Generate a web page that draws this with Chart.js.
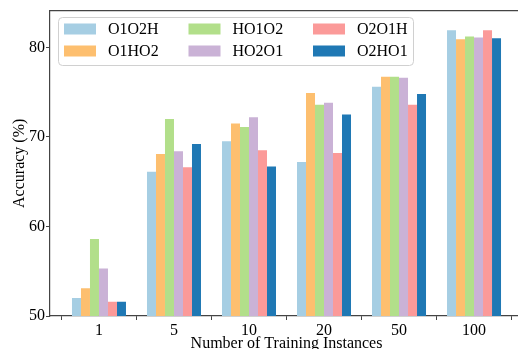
<!DOCTYPE html>
<html>
<head>
<meta charset="utf-8">
<script src="https://cdn.jsdelivr.net/npm/chart.js@4"></script>
<style>
html, body { margin: 0; padding: 0; overflow: hidden; background: #fff; }
#wrap { width: 518px; height: 349px; overflow: hidden; }
canvas { display: block; }
</style>
</head>
<body>
<div id="wrap"><canvas id="chart" width="524" height="349"></canvas></div>
<script>
// categories and series values (accuracy, %)
const categories = ['1', '5', '10', '20', '50', '100'];
const seriesNames = ['O1O2H', 'O1HO2', 'HO1O2', 'HO2O1', 'O2O1H', 'O2HO1'];
const o1o2h = [52.0, 66.1, 69.5, 67.2, 75.6, 81.9];
const o1ho2 = [53.1, 68.1, 71.5, 74.9, 76.7, 80.9];
const ho1o2 = [58.6, 72.0, 71.1, 73.6, 76.7, 81.2];
const ho2o1 = [55.3, 68.4, 72.2, 73.8, 76.6, 81.1];
const o2o1h = [51.6, 66.6, 68.5, 68.2, 73.6, 81.9];
const o2ho1 = [51.6, 69.2, 66.7, 72.5, 74.8, 81.0];
const yTicks = [50, 60, 70, 80];

const seriesValues = [o1o2h, o1ho2, ho1o2, ho2o1, o2o1h, o2ho1];
const colors = ['#a6cee3', '#fdbf6f', '#b2df8a', '#cab2d6', '#fb9a99', '#1f78b4'];
const serif = "'Liberation Serif', 'DejaVu Serif', serif";
const spineColor = '#444';

const datasets = seriesNames.map(function(name, i) {
    return {
        label: name,
        data: seriesValues[i].map(function(v, j) { return { x: j, y: v }; }),
        backgroundColor: colors[i],
        borderWidth: 0
    };
});

// top spine + legend box, drawn like matplotlib's
const extras = {
    id: 'extras',
    beforeDraw(chart) {
        const ctx = chart.ctx;
        ctx.save();
        ctx.fillStyle = '#fff';
        ctx.fillRect(0, 0, chart.width, chart.height);
        ctx.restore();
    },
    afterDraw(chart) {
        const ctx = chart.ctx;
        const area = chart.chartArea;
        ctx.save();
        ctx.strokeStyle = spineColor;
        ctx.lineWidth = 1.2;
        ctx.beginPath();
        ctx.moveTo(area.left, area.top);
        ctx.lineTo(area.right, area.top);
        ctx.stroke();

        // legend frame
        const bx = 58, by = 17, bw = 355, bh = 48, r = 4;
        ctx.beginPath();
        ctx.roundRect(bx + 0.5, by + 0.5, bw, bh, r);
        ctx.fillStyle = 'rgba(255,255,255,0.8)';
        ctx.fill();
        ctx.strokeStyle = '#d0d0d0';
        ctx.lineWidth = 1;
        ctx.stroke();

        ctx.font = '16px ' + serif;
        ctx.textBaseline = 'middle';
        ctx.fillStyle = '#000';
        chart.data.datasets.forEach(function(ds, i) {
            const col = Math.floor(i / 2), row = i % 2;
            const px = 64 + col * 124.5;
            const py = 29 + row * 22;
            ctx.fillStyle = ds.backgroundColor;
            ctx.fillRect(px, py - 5.5, 32, 11);
            ctx.fillStyle = '#000';
            ctx.fillText(ds.label, px + 44, py + 1);
        });
        ctx.restore();
    }
};

new Chart(document.getElementById('chart'), {
    type: 'bar',
    data: { datasets: datasets },
    options: {
        responsive: false,
        animation: false,
        layout: { padding: { top: 8, right: 1, left: 0, bottom: 0 } },
        datasets: { bar: { categoryPercentage: 0.72, barPercentage: 1.0 } },
        plugins: { legend: { display: false }, tooltip: { enabled: false } },
        scales: {
            x: {
                type: 'linear',
                min: -0.653,
                max: 5.653,
                offset: false,
                afterFit(scale) { scale.height = 33; },
                afterBuildTicks(scale) {
                    scale.ticks = categories.map(function(c, i) { return { value: i }; });
                },
                ticks: {
                    padding: 1,
                    color: '#000',
                    font: { family: serif, size: 16 },
                    callback: function(v) { return categories[v]; }
                },
                grid: { drawOnChartArea: false, drawTicks: true, tickLength: 4, color: spineColor, tickWidth: 1 },
                border: { display: true, color: spineColor, width: 1.2 },
                title: {
                    display: true,
                    text: 'Number of Training Instances',
                    color: '#000',
                    font: { family: serif, size: 16, lineHeight: 0.6 },
                    padding: { top: 0, bottom: 0 }
                }
            },
            y: {
                min: 50,
                max: 84.1,
                afterFit(scale) { scale.width = 50; },
                afterBuildTicks(scale) {
                    scale.ticks = yTicks.map(function(v) { return { value: v }; });
                },
                ticks: {
                    padding: 1,
                    color: '#000',
                    font: { family: serif, size: 16 }
                },
                grid: { drawOnChartArea: false, drawTicks: true, tickLength: 4, color: spineColor, tickWidth: 1 },
                border: { display: true, color: spineColor, width: 1.2 },
                title: {
                    display: true,
                    text: 'Accuracy (%)',
                    color: '#000',
                    font: { family: serif, size: 16, lineHeight: 1 },
                    padding: { top: 12, bottom: 0 }
                }
            }
        }
    },
    plugins: [extras]
});
</script>
</body>
</html>
